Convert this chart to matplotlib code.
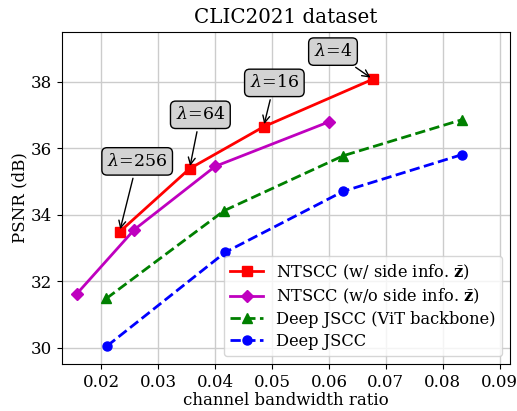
import matplotlib
matplotlib.use("Agg")
import matplotlib.pyplot as plt

plt.rcParams['font.family'] = 'DejaVu Serif'
plt.rcParams['mathtext.fontset'] = 'dejavuserif'

# data
x_ntscc = [0.0232, 0.0355, 0.0485, 0.0677]
y_ntscc = [33.48, 35.38, 36.64, 38.07]
x_ntscc_noz = [0.0157, 0.0258, 0.0400, 0.0600]
y_ntscc_noz = [31.62, 33.55, 35.45, 36.79]
x_vit = [0.0209, 0.0416, 0.0625, 0.0833]
y_vit = [31.48, 34.12, 35.77, 36.85]
x_djscc = [0.0210, 0.0418, 0.0625, 0.0833]
y_djscc = [30.05, 32.87, 34.70, 35.80]

lambdas = ["256", "64", "16", "4"]
label_pos = [(0.0263, 35.6), (0.0374, 37.0), (0.0504, 37.96), (0.0607, 38.9)]

fig = plt.figure(figsize=(5.17, 4.11), dpi=100)
ax = fig.add_axes([0.12, 0.1136, 0.8665, 0.8094])

ax.plot(x_ntscc, y_ntscc, 'r-s', lw=2, ms=6.5, label=r'NTSCC (w/ side info. $\bar{\mathbf{z}}$)')
ax.plot(x_ntscc_noz, y_ntscc_noz, 'm-D', lw=2, ms=6.5, label=r'NTSCC (w/o side info. $\bar{\mathbf{z}}$)')
ax.plot(x_vit, y_vit, 'g--^', lw=2, ms=6.5, label='Deep JSCC (ViT backbone)')
ax.plot(x_djscc, y_djscc, 'b--o', lw=2, ms=6.5, label='Deep JSCC')

for lam, (tx, ty), px, py in zip(lambdas, label_pos, x_ntscc, y_ntscc):
    ax.annotate(r'$\lambda$=' + lam, xy=(px, py), xytext=(tx, ty),
                fontsize=12.5, ha='center', va='center',
                bbox=dict(boxstyle='round,pad=0.3', fc='lightgray', ec='black'),
                arrowprops=dict(arrowstyle='->', color='black'))

ax.set_xlim(0.0131, 0.0918)
ax.set_ylim(29.5, 39.5)
ax.set_xticks([0.02, 0.03, 0.04, 0.05, 0.06, 0.07, 0.08, 0.09])
ax.set_yticks([30, 32, 34, 36, 38])
ax.tick_params(labelsize=12)
ax.grid(True, color='#cccccc', lw=1)
ax.set_axisbelow(True)

ax.set_xlabel('channel bandwidth ratio', fontsize=12, labelpad=1)
ax.set_ylabel('PSNR (dB)', fontsize=12, labelpad=2)
ax.set_title('CLIC2021 dataset', fontsize=14.3)
ax.legend(loc='lower right', fontsize=11.7, labelspacing=0.3)

fig.savefig('out.png', dpi=100)
